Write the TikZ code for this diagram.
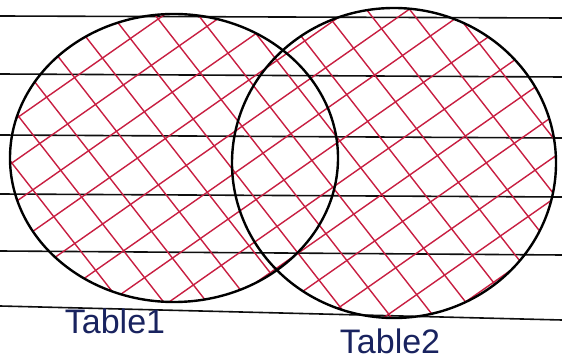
\documentclass[tikz,border=0pt]{standalone}
\usepackage{fontspec}
\setmainfont{Liberation Sans}
\usepackage{xcolor}
\definecolor{hred}{RGB}{200,30,65}
\definecolor{inkblue}{RGB}{25,35,95}
\definecolor{rule}{RGB}{15,15,15}
\usepackage{tikz}
\usetikzlibrary{positioning}

\begin{document}
\begin{tikzpicture}[x=1pt,y=-1pt,
    paperline/.style={rule,line width=1.6pt},
    hatch/.style={hred,line width=1.4pt},
    setline/.style={black,line width=2.4pt},
    setlabel/.style={inkblue,font=\fontsize{34}{36}\selectfont}]
  \useasboundingbox[fill=white] (0,0) rectangle (562,363);

  % lined paper
  \draw[paperline] (0,16) -- (562,18);
  \draw[paperline] (0,74) -- (562,77);
  \draw[paperline] (0,135) -- (562,138);
  \draw[paperline] (0,194) -- (562,197);
  \draw[paperline] (0,251) -- (562,255);
  \draw[paperline] (0,306) -- (562,320);

  % cross hatching over both sets (union)
  \begin{scope}
    \clip (174,158) ellipse (164 and 144) (394,163) ellipse (162 and 155);
    \foreach \k in {-12,...,12} {
      \draw[hatch,rotate around={35:(284,180)}] (-300,180+\k*34) -- (870,180+\k*34);
      \draw[hatch,rotate around={-52:(284,180)}] (-300,180+\k*34) -- (870,180+\k*34);
    }
  \end{scope}

  % the two sets
  \draw[setline] (174,158) ellipse (164 and 144);
  \draw[setline] (394,163) ellipse (162 and 155);

  % labels
  \node[setlabel] (lbl1) at (115,321) {Table1};
  \node[setlabel] (lbl2) at (390,341) {Table2};
\end{tikzpicture}
\end{document}
